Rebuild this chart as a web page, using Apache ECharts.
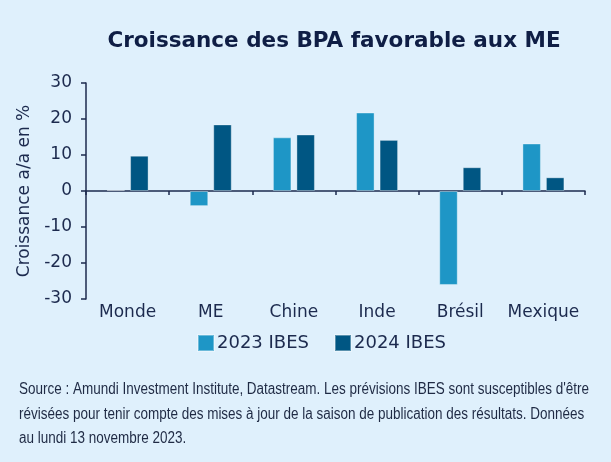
<!DOCTYPE html>
<html>
<head>
<meta charset="utf-8">
<script src="https://cdn.jsdelivr.net/npm/echarts@6/dist/echarts.min.js"></script>
<style>
  html, body { margin: 0; padding: 0; background: #dff0fc; }
  #chart { width: 611px; height: 462px; }
</style>
</head>
<body>
<div id="chart"></div>
<script>
const categories = ['Monde', 'ME', 'Chine', 'Inde', 'Brésil', 'Mexique']
const ibes2023 = [0.3, -4.2, 14.9, 21.8, -26.1, 13.2]
const ibes2024 = [9.8, 18.5, 15.7, 14.2, 6.6, 3.8]
const yTicks = { min: -30, max: 30, step: 10 }
const sourceLines = [
  'Source : Amundi Investment Institute, Datastream. Les prévisions IBES sont susceptibles d\'être',
  'révisées pour tenir compte des mises à jour de la saison de publication des résultats. Données',
  'au lundi 13 novembre 2023.'
]

const navy = '#1c2a4e'
const font = '"DejaVu Sans", sans-serif'
const noteFont = '16px "Liberation Sans", sans-serif'

// squeeze the footnote to look like the condensed face of the original
const ctx = document.createElement('canvas').getContext('2d')
ctx.font = noteFont
const noteScale = 570 / ctx.measureText(sourceLines[0]).width

const chart = echarts.init(document.getElementById('chart'))

chart.setOption({
  backgroundColor: '#dff0fc',
  animation: false,
  title: {
    text: 'Croissance des BPA favorable aux ME',
    left: 329,
    textAlign: 'center',
    top: 25,
    textStyle: { fontFamily: font, fontWeight: 'bold', fontSize: 21.5, color: '#0f1e45' }
  },
  graphic: sourceLines.map((line, i) => ({
    type: 'text',
    left: 19,
    top: 382 + i * 24.5,
    scaleX: noteScale,
    originX: 0,
    style: { text: line, font: noteFont, fill: '#1f2a44' }
  })),
  legend: {
    left: 192,
    top: 329,
    itemWidth: 16,
    itemHeight: 16,
    itemGap: 25,
    icon: 'rect',
    textStyle: { fontFamily: font, fontSize: 18, color: navy, padding: [0, 0, 0, -2] },
    data: ['2023 IBES', '2024 IBES']
  },
  grid: { left: 86, right: 26, top: 83, bottom: 163 },
  xAxis: [
    {
      type: 'category',
      data: categories,
      axisLine: { onZero: true, lineStyle: { color: navy, width: 1.5 } },
      axisTick: { show: true, length: 4, lineStyle: { color: navy, width: 1.5 } },
      axisLabel: { show: false }
    },
    {
      type: 'category',
      data: categories,
      position: 'bottom',
      axisLine: { show: false },
      axisTick: { show: false },
      axisLabel: { interval: 0, margin: 5, fontFamily: font, fontSize: 17, color: navy }
    }
  ],
  yAxis: {
    type: 'value',
    min: yTicks.min,
    max: yTicks.max,
    interval: yTicks.step,
    name: 'Croissance a/a en %',
    nameLocation: 'middle',
    nameGap: 51,
    nameTextStyle: { fontFamily: font, fontSize: 17, color: navy },
    axisLine: { show: true, lineStyle: { color: navy, width: 1.5 } },
    axisTick: { show: true, length: 5, lineStyle: { color: navy, width: 1.5 } },
    axisLabel: { margin: 14, fontFamily: font, fontSize: 17, color: navy },
    splitLine: { show: false }
  },
  series: [
    {
      name: '2023 IBES',
      type: 'bar',
      data: ibes2023,
      barWidth: 18.5,
      barGap: '27%',
      itemStyle: { color: '#1e96c6', borderColor: 'rgba(255,255,255,0.35)', borderWidth: 1 }
    },
    {
      name: '2024 IBES',
      type: 'bar',
      data: ibes2024,
      barWidth: 18.5,
      barGap: '27%',
      itemStyle: { color: '#005683', borderColor: 'rgba(255,255,255,0.35)', borderWidth: 1 }
    }
  ]
})
</script>
</body>
</html>
